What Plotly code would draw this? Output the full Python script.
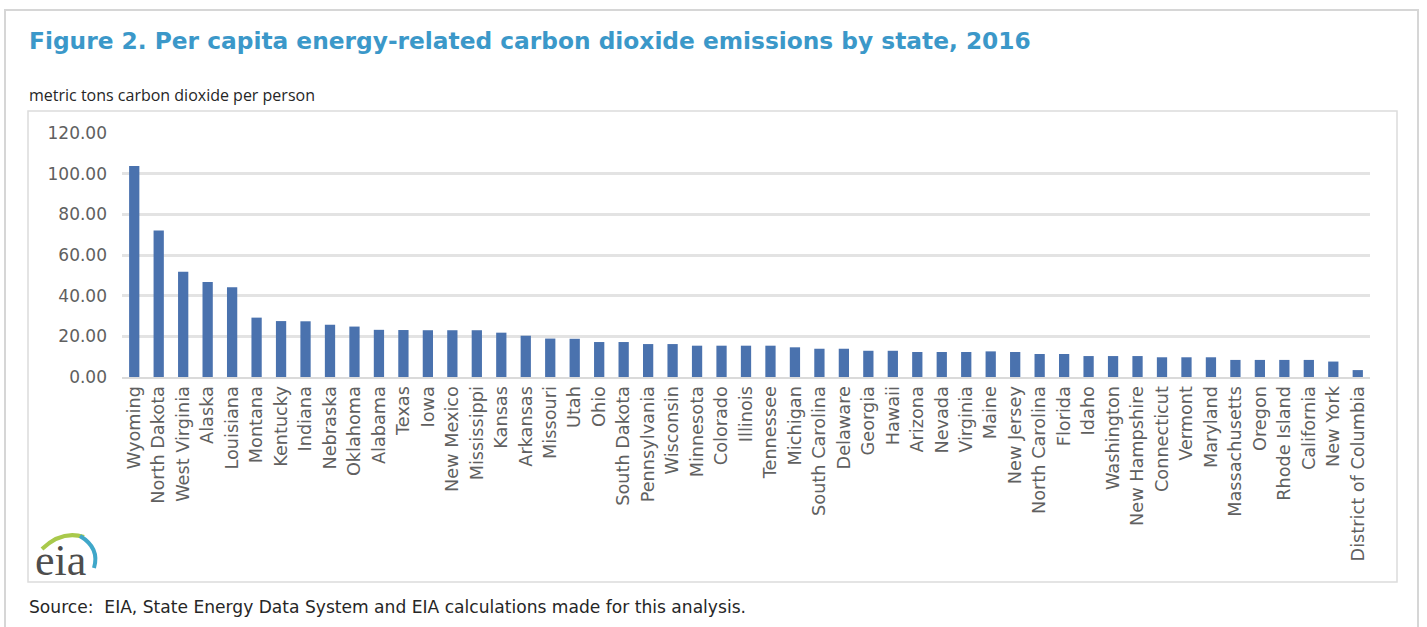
import plotly.graph_objects as go

states = ["Wyoming", "North Dakota", "West Virginia", "Alaska", "Louisiana", "Montana",
          "Kentucky", "Indiana", "Nebraska", "Oklahoma", "Alabama", "Texas", "Iowa",
          "New Mexico", "Mississippi", "Kansas", "Arkansas", "Missouri", "Utah", "Ohio",
          "South Dakota", "Pennsylvania", "Wisconsin", "Minnesota", "Colorado", "Illinois",
          "Tennessee", "Michigan", "South Carolina", "Delaware", "Georgia", "Hawaii",
          "Arizona", "Nevada", "Virginia", "Maine", "New Jersey", "North Carolina",
          "Florida", "Idaho", "Washington", "New Hampshire", "Connecticut", "Vermont",
          "Maryland", "Massachusetts", "Oregon", "Rhode Island", "California", "New York",
          "District of Columbia"]

emissions = [103.8, 72.0, 51.8, 46.7, 44.1, 29.2,
             27.5, 27.4, 25.7, 24.8, 23.2, 23.1, 23.0,
             23.0, 23.0, 21.8, 20.3, 18.9, 18.8, 17.2,
             17.2, 16.2, 16.2, 15.4, 15.4, 15.4,
             15.4, 14.6, 13.9, 13.9, 12.9, 12.9,
             12.3, 12.3, 12.3, 12.6, 12.3, 11.3,
             11.3, 10.3, 10.3, 10.3, 9.7, 9.7,
             9.7, 8.4, 8.4, 8.4, 8.4, 7.6,
             3.4]

y_ticks = [0, 20, 40, 60, 80, 100, 120]
y_tick_text = ["0.00", "20.00", "40.00", "60.00", "80.00", "100.00", "120.00"]

W, H = 1427, 627
L, R, T, B = 122, 57, 133, 250
PW, PH = W - L - R, H - T - B


def px(x):
    return (x - L) / PW


def py(y):
    return (H - B - y) / PH


fig = go.Figure()
fig.add_trace(go.Bar(
    x=states, y=emissions,
    marker=dict(color="#4a72ae", line=dict(width=0)),
    width=0.42,
    hoverinfo="x+y",
))

fig.update_layout(
    width=W, height=H,
    margin=dict(l=L, r=R, t=T, b=B, pad=0),
    paper_bgcolor="white", plot_bgcolor="white",
    showlegend=False,
    font=dict(family="DejaVu Sans", color="#595959"),
    xaxis=dict(
        type="category", range=[-0.5, len(states) - 0.5],
        tickangle=-90, tickfont=dict(size=17.7, color="#606060", family="DejaVu Sans"),
        showgrid=False, showline=True, linecolor="#dadada", linewidth=2,
        ticks="", ticklen=0, automargin=False,
    ),
    yaxis=dict(
        range=[0, 120], tickvals=y_ticks, ticktext=y_tick_text,
        tickfont=dict(size=17, color="#606060", family="DejaVu Sans"),
        showgrid=True, gridcolor="#e3e3e3", gridwidth=2.5,
        zeroline=False, showline=False, ticks="", ticklabelstandoff=14,
        automargin=False,
    ),
)

shapes = []
# outer frame
shapes.append(dict(type="rect", xref="paper", yref="paper",
                   x0=px(5), x1=px(1418), y0=py(650), y1=py(10),
                   line=dict(color="#d6d6d6", width=2), fillcolor="rgba(0,0,0,0)", layer="below"))
# inner chart frame
shapes.append(dict(type="rect", xref="paper", yref="paper",
                   x0=px(28), x1=px(1397), y0=py(582), y1=py(111),
                   line=dict(color="#dcdcdc", width=1.5), fillcolor="rgba(0,0,0,0)", layer="below"))


def path(points_cmd):
    out = []
    for tok in points_cmd:
        if isinstance(tok, str):
            out.append(tok)
        else:
            out.append(f"{px(tok[0]):.5f},{py(tok[1]):.5f}")
    return " ".join(out)


# eia logo swooshes
shapes.append(dict(type="path", xref="paper", yref="paper",
                   path=path(["M", (42, 549), "Q", (62, 530), (84, 537)]),
                   line=dict(color="#a9c94b", width=4)))
shapes.append(dict(type="path", xref="paper", yref="paper",
                   path=path(["M", (80, 536), "Q", (100, 548), (94, 568)]),
                   line=dict(color="#3fa7c9", width=4)))
fig.update_layout(shapes=shapes)

annotations = [
    dict(text="<b>Figure 2. Per capita energy-related carbon dioxide emissions by state, 2016</b>",
         x=px(27), y=py(40), xref="paper", yref="paper", xanchor="left", yanchor="middle",
         showarrow=False, font=dict(family="DejaVu Sans", size=23.3, color="#3b98c9")),
    dict(text="metric tons carbon dioxide per person",
         x=px(27), y=py(95), xref="paper", yref="paper", xanchor="left", yanchor="middle",
         showarrow=False, font=dict(family="Open Sans", size=16, color="#262626")),
    dict(text="Source:  EIA, State Energy Data System and EIA calculations made for this analysis.",
         x=px(27), y=py(607), xref="paper", yref="paper", xanchor="left", yanchor="middle",
         showarrow=False, font=dict(family="DejaVu Sans", size=17.1, color="#262626")),
    dict(text="eia",
         x=px(33), y=py(560), xref="paper", yref="paper", xanchor="left", yanchor="middle",
         showarrow=False, font=dict(family="Liberation Serif", size=44, color="#4d4d4d")),
]
fig.update_layout(annotations=annotations)

fig.write_html("out.html")
